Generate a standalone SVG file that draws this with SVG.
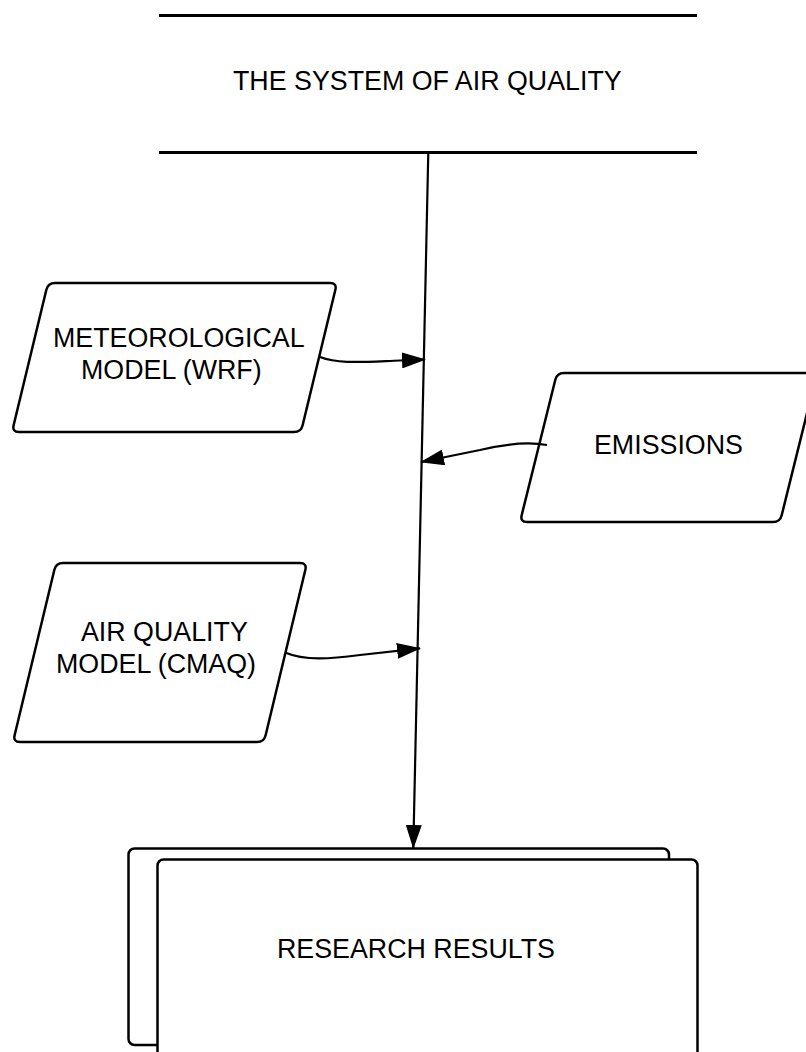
<svg xmlns="http://www.w3.org/2000/svg" width="806" height="1052" viewBox="0 0 806 1052">
  <style>
    .shape { fill: #ffffff; stroke: #000000; stroke-width: 2.5; }
    .rule { stroke: #000000; stroke-width: 3; fill: none; }
    .conn { stroke: #000000; stroke-width: 2.2; fill: none; }
    .label { font-family: "Liberation Sans", Arial, sans-serif; font-size: 26.8px; fill: #000000; }
  </style>
  <defs>
    <marker id="arrow" viewBox="0 0 24 16" refX="23" refY="8" markerWidth="24" markerHeight="16" markerUnits="userSpaceOnUse" orient="auto">
      <path d="M0,0 L24,8 L0,16 Z" fill="#000000"/>
    </marker>
  </defs>
  <rect width="806" height="1052" fill="#ffffff"/>

  <g id="title">
    <line class="rule" x1="159" y1="15.5" x2="697" y2="15.5"/>
    <line class="rule" x1="159" y1="152.5" x2="697" y2="152.5"/>
    <text class="label" x="233" y="90">THE SYSTEM OF AIR QUALITY</text>
  </g>

  <g id="meteorological">
    <path class="shape" d="M55,283 L330,283 Q337,283 335.36,289.8 L302.64,425.2 Q301,432 294,432 L19,432 Q12,432 13.64,425.2 L46.36,289.8 Q48,283 55,283 Z"/>
    <text class="label" x="53" y="347">METEOROLOGICAL</text>
    <text class="label" x="81" y="379">MODEL (WRF)</text>
  </g>

  <g id="emissions">
    <path class="shape" d="M564,373 L810,373 Q817,373 815.31,379.79 L781.69,515.21 Q780,522 773,522 L527,522 Q520,522 521.69,515.21 L555.31,379.79 Q557,373 564,373 Z"/>
    <text class="label" x="594" y="454">EMISSIONS</text>
  </g>

  <g id="cmaq">
    <path class="shape" d="M63,563 L300,563 Q307,563 305.37,569.81 L265.63,735.19 Q264,742 257,742 L20,742 Q13,742 14.63,735.19 L54.37,569.81 Q56,563 63,563 Z"/>
    <text class="label" x="81" y="641">AIR QUALITY</text>
    <text class="label" x="56" y="673">MODEL (CMAQ)</text>
  </g>

  <g id="results">
    <rect class="shape" x="128.5" y="848.5" width="540.5" height="196.5" rx="6" ry="6"/>
    <rect class="shape" x="157.5" y="859.5" width="540" height="210" rx="6" ry="6"/>
    <text class="label" x="277" y="958">RESEARCH RESULTS</text>
  </g>

  <g id="connectors">
    <path class="conn" d="M428.3,152 L413.3,848" marker-end="url(#arrow)"/>
    <path class="conn" d="M320,357 C338,364 360,362 400,360.5 L425,359.5" marker-end="url(#arrow)"/>
    <path class="conn" d="M547,445 C530,442 505,444 480,450 L421,462" marker-end="url(#arrow)"/>
    <path class="conn" d="M285,652.5 C305,661 330,659 360,655 L420,648.3" marker-end="url(#arrow)"/>
  </g>
</svg>
